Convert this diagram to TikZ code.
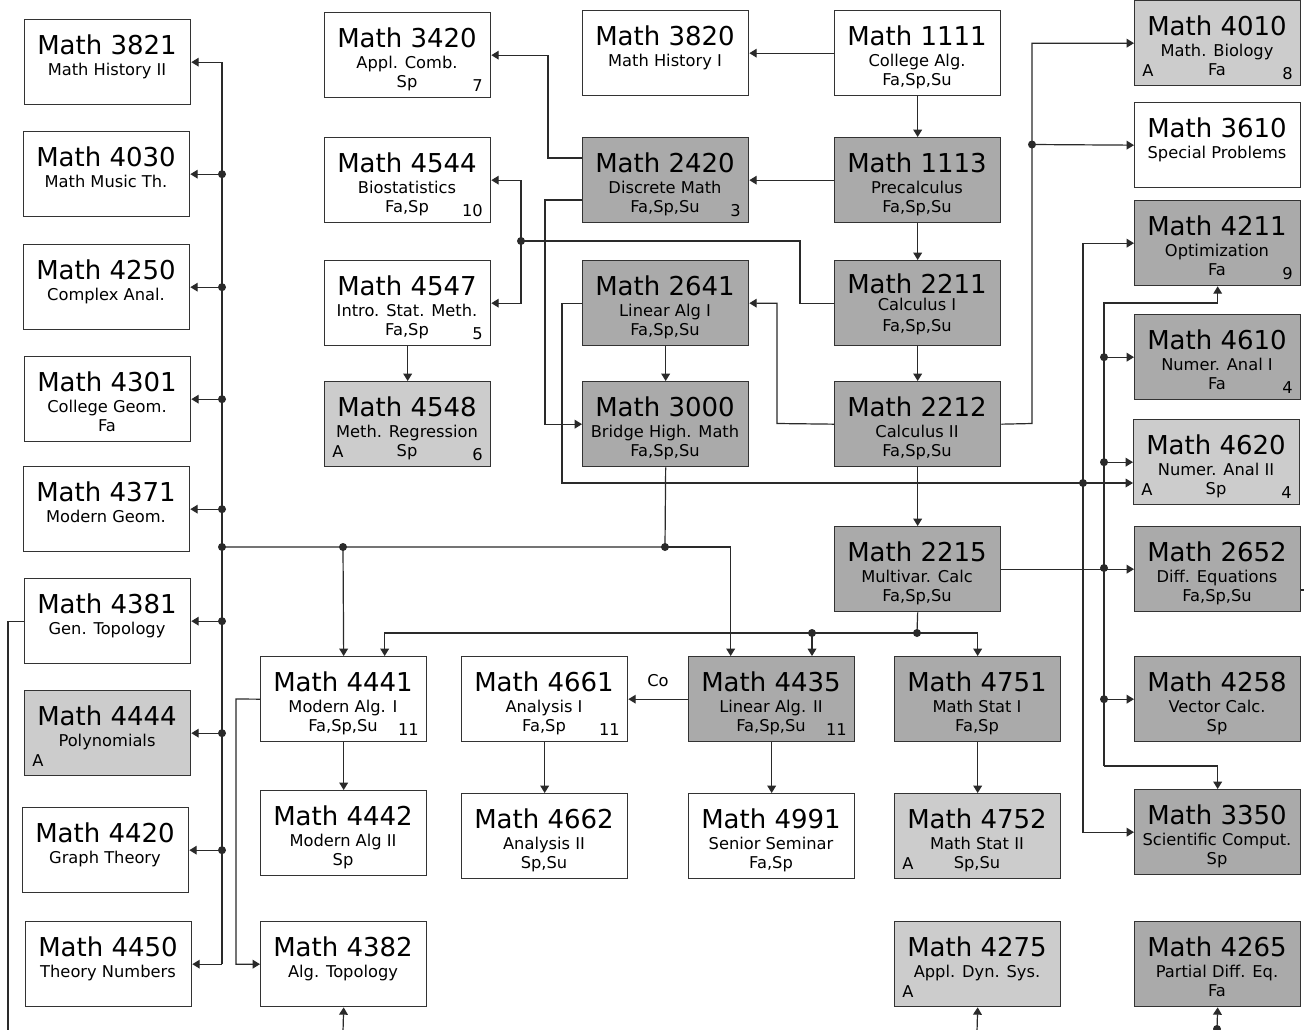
\documentclass[tikz,border=0pt]{standalone}
\usepackage{fontspec}
\setmainfont{DejaVu Sans}
\usetikzlibrary{arrows.meta,calc}
\newcommand\whenfull[2]{\if\relax\detokenize{#1}\relax\else#2\fi}
\definecolor{dk}{HTML}{AAAAAA}
\definecolor{lt}{HTML}{CCCCCC}
\definecolor{bd}{HTML}{333333}
\definecolor{lc}{HTML}{2A2A2A}
\tikzset{
  cbox/.style={draw=bd, line width=1pt, rectangle, inner sep=0pt,
    minimum width=124.5pt, minimum height=63.75pt},
  wbox/.style={fill=white},
  dbox/.style={fill=dk},
  lbox/.style={fill=lt},
  ttl/.style={anchor=base, inner sep=0pt, font=\fontsize{19.5pt}{20pt}\selectfont},
  sub/.style={anchor=base, inner sep=0pt, font=\fontsize{12.2pt}{13pt}\selectfont},
  ln/.style={draw=lc, line width=0.9pt},
  arr/.style={ln, -{Triangle[length=5.5pt,width=6.5pt]}},
}
\newcommand\course[8]{%
  \node[cbox,#4,anchor=north west] (n#1) at (#2,#3) {};
  \node[ttl] (n#1t) at (#2+83,#3+35) {Math #1};
  \whenfull{#5}{\node[sub] (n#1s) at (#2+83,#3+56) {#5};}%
  \whenfull{#6}{\node[sub] (n#1f) at (#2+83,#3+75) {#6};}%
  \whenfull{#7}{\node[sub,anchor=base east] (n#1n) at (#2+159,#3+79) {#7};}%
  \whenfull{#8}{\node[sub,anchor=base west] (n#1a) at (#2+8,#3+76) {#8};}%
}
\newcommand\dotat[1]{\fill[lc] #1 circle (3pt);}
\begin{document}
\begin{tikzpicture}[x=0.75pt,y=-0.75pt]
\fill[white] (0,0) rectangle (1304,1029);
\useasboundingbox (0,0) rectangle (1304,1029);

% left column
\course{3821}{24}{19}{wbox}{Math History II}{}{}{}
\course{4030}{23}{131}{wbox}{Math Music Th.}{}{}{}
\course{4250}{23}{244}{wbox}{Complex Anal.}{}{}{}
\course{4301}{24}{356}{wbox}{College Geom.}{Fa}{}{}
\course{4371}{23}{466}{wbox}{Modern Geom.}{}{}{}
\course{4381}{24}{578}{wbox}{Gen. Topology}{}{}{}
\course{4444}{24}{690}{lbox}{Polynomials}{}{}{A}
\course{4420}{22}{807}{wbox}{Graph Theory}{}{}{}
\course{4450}{25}{921}{wbox}{Theory Numbers}{}{}{}

% second column
\course{3420}{324}{12}{wbox}{Appl. Comb.}{Sp}{7}{}
\course{4544}{324}{137}{wbox}{Biostatistics}{Fa,Sp}{10}{}
\course{4547}{324}{260}{wbox}{Intro. Stat. Meth.}{Fa,Sp}{5}{}
\course{4548}{324}{381}{lbox}{Meth. Regression}{Sp}{6}{A}

% third column
\course{3820}{582}{10}{wbox}{Math History I}{}{}{}
\course{2420}{582}{137}{dbox}{Discrete Math}{Fa,Sp,Su}{3}{}
\course{2641}{582}{260}{dbox}{Linear Alg I}{Fa,Sp,Su}{}{}
\course{3000}{582}{381}{dbox}{Bridge High. Math}{Fa,Sp,Su}{}{}

% fourth column
\course{1111}{834}{10}{wbox}{College Alg.}{Fa,Sp,Su}{}{}
\course{1113}{834}{137}{dbox}{Precalculus}{Fa,Sp,Su}{}{}
\node[cbox,dbox,anchor=north west] (n2211) at (834,260) {};
\node[ttl] (n2211t) at (917,293) {Math 2211};
\node[sub] (n2211s) at (917,310) {Calculus I};
\node[sub] (n2211f) at (917,331) {Fa,Sp,Su};
\course{2212}{834}{381}{dbox}{Calculus II}{Fa,Sp,Su}{}{}
\course{2215}{834}{526}{dbox}{Multivar. Calc}{Fa,Sp,Su}{}{}

% right column
\course{4010}{1134}{0}{lbox}{Math. Biology}{Fa}{8}{A}
\course{3610}{1134}{102}{wbox}{Special Problems}{}{}{}
\course{4211}{1134}{200}{dbox}{Optimization}{Fa}{9}{}
\course{4610}{1134}{314}{dbox}{Numer. Anal I}{Fa}{4}{}
\course{4620}{1133}{419}{lbox}{Numer. Anal II}{Sp}{4}{A}
\course{2652}{1134}{526}{dbox}{Diff. Equations}{Fa,Sp,Su}{}{}
\course{4258}{1134}{656}{dbox}{Vector Calc.}{Sp}{}{}
\course{3350}{1134}{789}{dbox}{Scientific Comput.}{Sp}{}{}
\course{4265}{1134}{921}{dbox}{Partial Diff. Eq.}{Fa}{}{}

% lower block
\course{4441}{260}{656}{wbox}{Modern Alg. I}{Fa,Sp,Su}{11}{}
\course{4442}{260}{790}{wbox}{Modern Alg II}{Sp}{}{}
\course{4382}{260}{921}{wbox}{Alg. Topology}{}{}{}
\course{4661}{461}{656}{wbox}{Analysis I}{Fa,Sp}{11}{}
\course{4662}{461}{793}{wbox}{Analysis II}{Sp,Su}{}{}
\course{4435}{688}{656}{dbox}{Linear Alg. II}{Fa,Sp,Su}{11}{}
\course{4991}{688}{793}{wbox}{Senior Seminar}{Fa,Sp}{}{}
\course{4751}{894}{656}{dbox}{Math Stat I}{Fa,Sp}{}{}
\course{4752}{894}{793}{lbox}{Math Stat II}{Sp,Su}{}{A}
\course{4275}{894}{921}{lbox}{Appl. Dyn. Sys.}{}{}{A}

% ---------- coordinates ----------
\coordinate (lx) at (222,0);
\coordinate (k1) at (548,158);
\coordinate (k2) at (545,200);
\coordinate (k3) at (800,241);
\coordinate (d1) at (521,241);
\coordinate (v4) at (777,423.5);
\coordinate (v5) at (562,483);
\coordinate (d2) at (1083,483);
\coordinate (v6) at (1032,423.5);
\coordinate (d3) at (1032,144.5);
\coordinate (d4) at (1104,568);
\coordinate (t1) at (1104,303);
\coordinate (b1) at (1104,766);
\coordinate (d6) at (917,633);
\coordinate (d7) at (812,633);
\coordinate (d8) at (665,547);
\coordinate (d9) at (222,547);
\coordinate (d10) at (343,547);
\coordinate (v7) at (236,699);
\coordinate (e1) at (343,1032);
\coordinate (e2) at (977,1032);
\coordinate (e3) at (1217,1029);
\coordinate (e4) at (8,1032);
\coordinate (e5) at (1306,590);

% ---------- connectors ----------
\draw[arr] (n1111.west) -- (n3820.east);
\draw[arr] (n1111.south) -- (n1113.north);
\draw[arr] (n1113.west) -- (n2420.east);
\draw[arr] (n1113.south) -- (n2211.north);
\draw[arr] (n2211.south) -- (n2212.north);
\draw[arr] (n2212.south) -- (n2215.north);
\draw[arr] (k1 -| n2420.west) -- (k1) |- (n3420.east);
\draw[arr] (k2 -| n2420.west) -- (k2) |- (n3000.west);
\draw[ln] (n2211.west) -| (k3) -- (d1);
\draw[arr] (d1) |- (n4544.east);
\draw[arr] (d1) |- (n4547.east);
\dotat{(d1)}
\draw[arr] (n4547.south) -- (n4548.north);
\draw[arr] (n2212.west) -- (v4) |- (n2641.east);
\draw[arr] (n2641.south) -- (n3000.north);
\draw[arr] (n2641.west) -| (v5) -- (v5 -| n4620.west);
\draw[arr] (d2) |- (n4211.west);
\draw[arr] (d2) |- (n3350.west);
\dotat{(d2)}
\draw[arr] (n2212.east) -- (v6) |- (n4010.west);
\draw[arr] (d3) -- (n3610.west);
\dotat{(d3)}
% 2215 to right bus
\draw[arr] (n2215.east) -- (n2652.west);
\draw[arr] (b1) -- (t1) -| (n4211.south);
\draw[arr] (b1) -| (n3350.north);
\foreach \c in {4610,4620,4258}{
  \draw[arr] (n\c.west -| t1) -- (n\c.west);
  \dotat{(n\c.west -| t1)}
}
\dotat{(d4)}
% 2215 downward
\draw[ln] (n2215.south) -- (d6);
\draw[arr] (d6) -| (n4751.north);
\draw[arr] (d6) -| ($(n4441.north)+(41,0)$);
\draw[arr] (d7) -- (d7 |- n4435.north);
\dotat{(d6)}
\dotat{(d7)}
% 3000 downward and left bus
\draw[ln] (n3000.south) -- (d8) -- (d9);
\draw[arr] (d8) -| ($(n4435.north)+(-41,0)$);
\draw[arr] (d10) -- (n4441.north);
\dotat{(d8)}
\dotat{(d9)}
\dotat{(d10)}
\draw[ln] (n3821.east -| lx) -- (n4450.east -| lx);
\draw[arr] (n3821.east -| lx) -- (n3821.east);
\draw[arr] (n4450.east -| lx) -- (n4450.east);
\foreach \c in {4030,4250,4301,4371,4381,4444,4420}{
  \draw[arr] (n\c.east -| lx) -- (n\c.east);
  \dotat{(n\c.east -| lx)}
}
% lower block
\draw[arr] (n4435.west) -- (n4661.east);
\node[sub, anchor=center] (lblCo) at (658,681) {Co};
\draw[arr] (n4435.south) -- (n4991.north);
\draw[arr] (n4661.south) -- (n4662.north);
\draw[arr] (n4441.south) -- (n4442.north);
\draw[arr] (n4441.west) -- (v7) |- (n4382.west);
\draw[arr] (n4751.south) -- (n4752.north);
% off-picture stubs
\draw[arr] (e1) -- (n4382.south);
\draw[arr] (e2) -- (n4275.south);
\draw[arr] (e3) -- (n4265.south);
\dotat{(e3)}
\draw[ln] (n4381.west) -| (e4);
\draw[ln] (e5 -| n2652.east) -- (e5);
\end{tikzpicture}
\end{document}
